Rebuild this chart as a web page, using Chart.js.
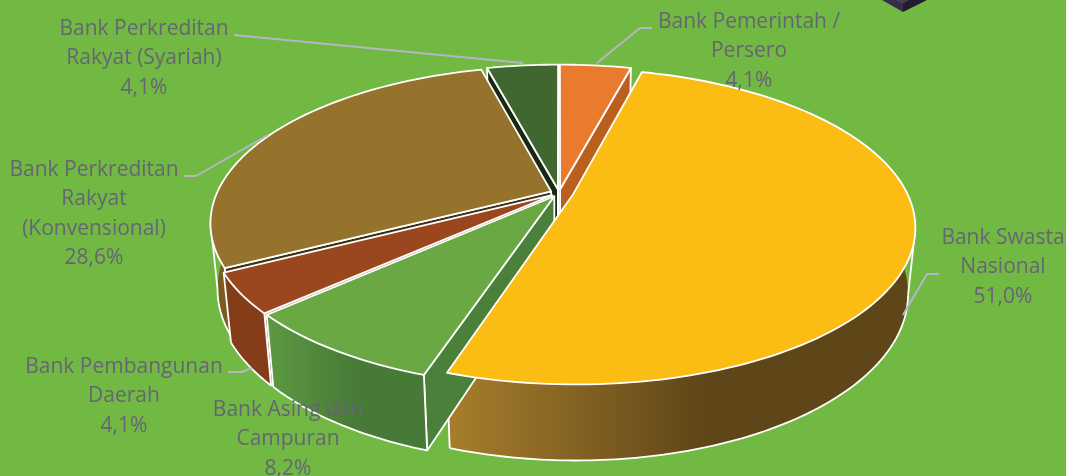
<!DOCTYPE html>
<html><head><meta charset="utf-8">
<style>html,body{margin:0;padding:0;background:#72b944;overflow:hidden}canvas{display:block}</style>
<script src="https://cdn.jsdelivr.net/npm/chart.js@4"></script>
</head><body><canvas id="c" width="1066" height="476"></canvas>
<script>
const categories=["Bank Pemerintah / Persero","Bank Swasta Nasional","Bank Asing dan Campuran","Bank Pembangunan Daerah","Bank Perkreditan Rakyat (Konvensional)","Bank Perkreditan Rakyat (Syariah)"];
const values=[4.1,51.0,8.2,4.1,28.6,4.1];
const labelLines=[["Bank Pemerintah /","Persero"],["Bank Swasta","Nasional"],["Bank Asing dan","Campuran"],["Bank Pembangunan","Daerah"],["Bank Perkreditan","Rakyat","(Konvensional)"],["Bank Perkreditan","Rakyat (Syariah)"]];
const labelAnchors=[[749,22],[1003,238],[288,410],[124,367],[94,170],[144,29]];
const leaders=[[[652,28],[640,28],[597,63]],[[939,274],[927,274],[903,315]],[],[[228,372],[242,372],[252,368]],[[184,176],[196,176],[268,135]],[[234,35],[523,63]]];
const topColors=["#ea7a2e","#fbbc14","#6aa843","#9a461f","#96732d","#40672f"];
const wallLight=["#bb5f1f","#a87e2c","#5d9a42","#853c18","#7a5c20","#182a13"];
const wallDark=["#bb5f1f","#5f4619","#477a37","#853c18","#7a5c20","#182a13"];
const radialWall=["#bb5f1f","#5f4619","#4a8039","#7a3a16","#3c3216","#182a13"];
const explode=[9,15,9,9,9,9];
const BG="#72b944",TEXT="#666573",LEADER="#b5b5c6";
const X0=559,Y0=193,P=0.2,Q=0.02,F=0.955,G=0.431,H=66;
function proj(u,v,z,R){const s=1/(1-P*v/R+Q*z);return [X0+F*u*s,Y0+(G*v+H*z)*s];}
function sliceGeom(a){const mid=(a.startAngle+a.endAngle)/2,d=a.options.offset||0;
 return {R:a.outerRadius,ou:Math.cos(mid)*d,ov:Math.sin(mid)*d,s:a.startAngle,e:a.endAngle,mid};}
function pt(g,ang,r,z){return proj(g.ou+Math.cos(ang)*r,g.ov+Math.sin(ang)*r,z,g.R);}
function addPts(ctx,pts,close){pts.forEach((p,i)=>i?ctx.lineTo(p[0],p[1]):ctx.moveTo(p[0],p[1]));if(close)ctx.closePath();}
function trace(ctx,pts,close){ctx.beginPath();addPts(ctx,pts,close);}
function edge(ctx,pts,close){trace(ctx,pts,close);ctx.strokeStyle="#fff";ctx.lineWidth=1.8;ctx.lineJoin="round";ctx.stroke();}
function paint(ctx,pts,fill){trace(ctx,pts,true);ctx.fillStyle=fill;ctx.fill();edge(ctx,pts,true);}
function arcDraw(ctx){const g=sliceGeom(this),pts=[pt(g,0,0,0)];
 const n=Math.ceil((g.e-g.s)*40);for(let i=0;i<=n;i++)pts.push(pt(g,g.s+(g.e-g.s)*i/n,g.R,0));
 paint(ctx,pts,this.options.backgroundColor);}
function outerWall(ctx,g,i){
 const n=Math.ceil((g.e-g.s)*60),top=[],bot=[];
 for(let k=0;k<=n;k++){const t=g.s+(g.e-g.s)*k/n;if(Math.sin(t)>=-0.1){top.push(pt(g,t,g.R,0));bot.push(pt(g,t,g.R,1));}}
 if(top.length<2)return;
 const xs=top.concat(bot).map(p=>p[0]),x0=Math.min(...xs),x1=Math.max(...xs);
 const gr=ctx.createLinearGradient(x0,0,x0+(x1-x0)*0.55,0);gr.addColorStop(0,wallLight[i]);gr.addColorStop(1,wallDark[i]);
 ctx.fillStyle=gr;ctx.beginPath();
 for(let k=0;k+1<top.length;k++)addPts(ctx,[top[k],top[k+1],bot[k+1],bot[k]],true);
 ctx.fill();
 const mid=top.map((p,k)=>(p[0]+bot[k][0])/2);
 const kR=mid.indexOf(Math.max(...mid)),kL=mid.indexOf(Math.min(...mid));
 let a=0,b=top.length-1;
 if(kR>0&&kR<b){edge(ctx,[top[kR],bot[kR]]);a=kR;}
 if(kL>0&&kL<b){edge(ctx,[top[kL],bot[kL]]);b=kL;}
 edge(ctx,bot.slice(a,b+1));
 if(a===0&&Math.sin(g.s)>=-0.1)edge(ctx,[top[0],bot[0]]);
 if(b===top.length-1&&Math.sin(g.e)>=-0.1)edge(ctx,[top[b],bot[b]]);
}
const pie3d={id:'pie3d',
 beforeDraw(chart){const ctx=chart.ctx;ctx.save();ctx.fillStyle=BG;ctx.fillRect(0,0,1066,476);
  ctx.fillStyle="#352d4a";trace(ctx,[[882,0],[903,12],[903,3],[897,0]],true);ctx.fill();
  ctx.fillStyle="#231c30";trace(ctx,[[927,0],[903,12],[903,3],[908,0]],true);ctx.fill();
  ctx.fillStyle="#423a55";trace(ctx,[[897,0],[903,3],[908,0]],true);ctx.fill();ctx.restore();},
 beforeDatasetsDraw(chart){const ctx=chart.ctx,arcs=chart.getDatasetMeta(0).data;ctx.save();
  const order=arcs.map((a,i)=>i).sort((i,j)=>Math.sin(sliceGeom(arcs[i]).mid)-Math.sin(sliceGeom(arcs[j]).mid));
  for(const i of order){const a=arcs[i],g=sliceGeom(a);a.draw=arcDraw;
   const rad=(ang)=>[pt(g,0,0,0),pt(g,ang,g.R,0),pt(g,ang,g.R,1),pt(g,0,0,1)];
   if(-Math.cos(g.s)>0) paint(ctx,rad(g.s),radialWall[i]);
   if(Math.cos(g.e)>0) paint(ctx,rad(g.e),radialWall[i]);
   outerWall(ctx,g,i);
  }
  ctx.restore();},
 afterDatasetsDraw(chart){const ctx=chart.ctx;ctx.save();
  ctx.strokeStyle=LEADER;ctx.lineWidth=2;ctx.lineJoin="round";
  leaders.forEach(l=>{if(!l.length)return;trace(ctx,l);ctx.stroke();});
  ctx.fillStyle=TEXT;ctx.font='21px "Open Sans"';ctx.textAlign="center";ctx.textBaseline="middle";
  labelLines.forEach((lines,i)=>{const [x,y]=labelAnchors[i],step=29.3;
   lines.concat([values[i].toFixed(1).replace('.',',')+'%']).forEach((t,k)=>ctx.fillText(t,x,y+k*step));});
  ctx.restore();}
};
new Chart(document.getElementById('c'),{type:'pie',
 data:{labels:categories,datasets:[{data:values,backgroundColor:topColors,offset:explode,borderColor:'#fff',borderWidth:1.8,clip:false}]},
 options:{responsive:false,animation:false,radius:350,layout:{padding:0},events:[],plugins:{legend:{display:false},tooltip:{enabled:false}}},
 plugins:[pie3d]});
</script></body></html>
